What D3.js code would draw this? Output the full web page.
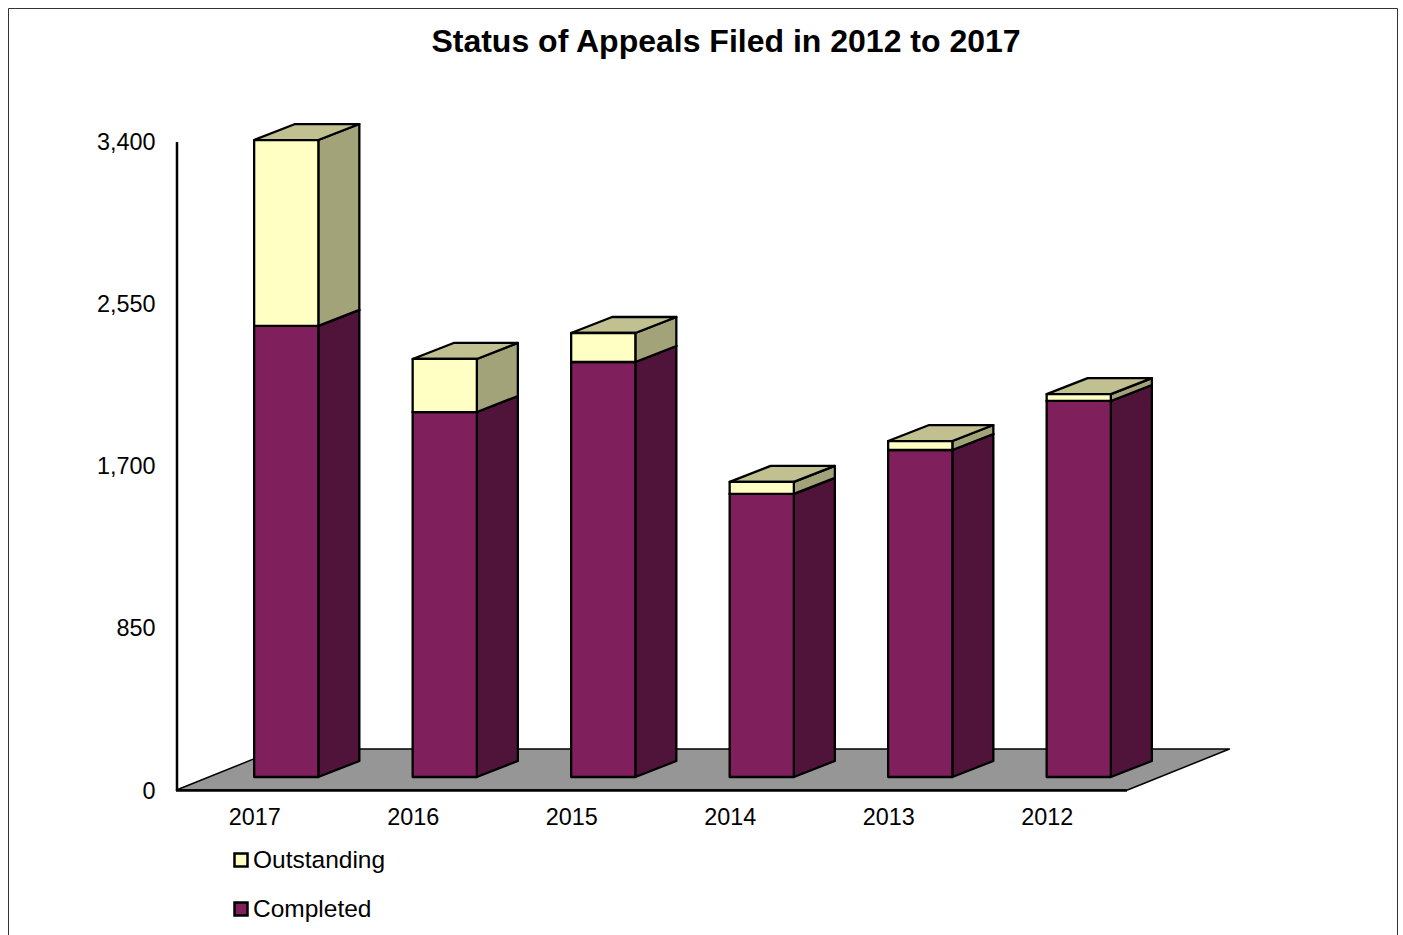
<!DOCTYPE html>
<meta charset="utf-8">
<style>
html, body { margin: 0; padding: 0; background: #fff; overflow: hidden; }
svg { display: block; }
text { font-family: "Liberation Sans", Arial, sans-serif; fill: #000; }
.axis text { font-size: 23.4px; }
.axis .domain { stroke: #000; stroke-width: 2.5px; }
.title { font-size: 32px; font-weight: bold; text-anchor: middle; }
.legend text { font-size: 24.5px; }
.face { stroke: #000; stroke-width: 2.3px; stroke-linejoin: round; }
</style>
<svg width="1403" height="935"></svg>
<script src="https://d3js.org/d3.v7.min.js"></script>
<script>

var years = ["2017", "2016", "2015", "2014", "2013", "2012"];
var completed = [2363, 1912, 2174, 1483, 1713, 1970];
var outstanding = [974, 278, 152, 63, 47, 36];
var yTicks = [0, 850, 1700, 2550, 3400];
var seriesNames = ["Completed", "Outstanding"];
var front = ["#7f1f5c", "#ffffc4"];
var side = ["#50143a", "#a3a37a"];
var top_ = ["#65194a", "#c0c090"];

var svg = d3.select("svg");

// page frame, runs off the bottom of the picture
svg.append("path")
  .attr("d", "M8.5,945V8.5H1397.5V945")
  .attr("fill", "none")
  .attr("stroke", "#333")
  .attr("stroke-width", 1);

svg.append("text")
  .attr("class", "title")
  .attr("x", 726)
  .attr("y", 52)
  .text("Status of Appeals Filed in 2012 to 2017");

var x = d3.scaleBand().domain(years).range([176.5, 1127.5]).paddingInner(0.595).paddingOuter(0.2975);
var y = d3.scaleLinear().domain([0, 3400]).range([790, 141]);

// depth of the fake 3d
var floorDx = 102, floorDy = -41;
var barDx = 41, barDy = -16;
var shiftX = 30.5, shiftY = -13;

var line = d3.line();

svg.append("path")
  .attr("d", line([
    [x.range()[0], y(0)],
    [x.range()[1], y(0)],
    [x.range()[1] + floorDx, y(0) + floorDy],
    [x.range()[0] + floorDx, y(0) + floorDy]
  ]) + "Z")
  .attr("fill", "#969696")
  .attr("stroke", "#000")
  .attr("stroke-width", 1.5)
  .attr("stroke-linejoin", "round");

var bars = svg.append("g");

function box(g, x0, w, y0, y1, s) {
  var f = [[x0, y0], [x0 + w, y0], [x0 + w, y1], [x0, y1]];
  var r = [[x0 + w, y0], [x0 + w + barDx, y0 + barDy], [x0 + w + barDx, y1 + barDy], [x0 + w, y1]];
  var t = [[x0, y1], [x0 + w, y1], [x0 + w + barDx, y1 + barDy], [x0 + barDx, y1 + barDy]];
  g.append("path").attr("class", "face").attr("d", line(r) + "Z").attr("fill", side[s]);
  g.append("path").attr("class", "face").attr("d", line(t) + "Z").attr("fill", top_[s]);
  g.append("path").attr("class", "face").attr("d", line(f) + "Z").attr("fill", front[s]);
}

years.forEach(function(yr, i) {
  var g = bars.append("g");
  var x0 = x(yr) + shiftX, w = x.bandwidth();
  var base = y(0) + shiftY;
  var mid = y(completed[i]) + shiftY;
  var tot = y(completed[i] + outstanding[i]) + shiftY;
  box(g, x0, w, base, mid, 0);
  box(g, x0, w, mid, tot, 1);
});

svg.append("g")
  .attr("class", "axis")
  .attr("transform", "translate(176.5,0.5)")
  .call(d3.axisLeft(y).tickValues(yTicks).tickSize(0).tickPadding(21).tickFormat(d3.format(",")))
  .call(function(g) { g.selectAll("text").attr("font-family", null).attr("font-size", null); });

svg.append("g")
  .attr("class", "axis")
  .attr("transform", "translate(-1,790)")
  .call(d3.axisBottom(x).tickSize(0).tickPadding(18))
  .call(function(g) { g.selectAll("text").attr("font-family", null).attr("font-size", null); });

var legend = svg.append("g").attr("class", "legend");
[1, 0].forEach(function(s, i) {
  var ly = 860 + i * 49;
  legend.append("rect")
    .attr("x", 234.5).attr("y", ly - 6.5)
    .attr("width", 13).attr("height", 13)
    .attr("fill", front[s])
    .attr("stroke", "#000")
    .attr("stroke-width", 2.5);
  legend.append("text")
    .attr("x", 253).attr("y", ly + 8)
    .text(seriesNames[s]);
});

</script>
